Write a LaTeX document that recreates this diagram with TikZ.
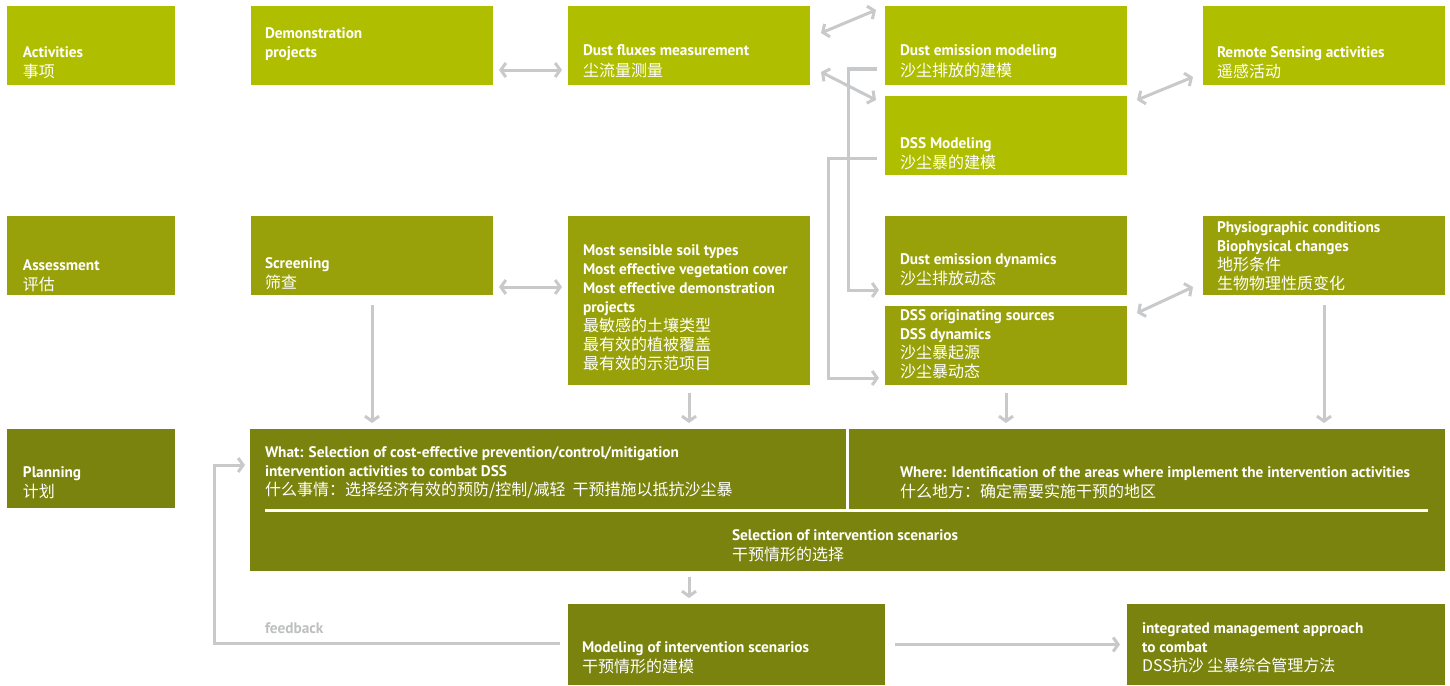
\documentclass[tikz,border=0pt]{standalone}
\usepackage{fontspec}
\setmainfont{PT Sans}
\newfontfamily\cjkfont{Noto Sans CJK SC}
\usetikzlibrary{arrows.meta,calc}
\definecolor{cA}{RGB}{176,190,0}
\definecolor{cB}{RGB}{152,161,10}
\definecolor{cC}{RGB}{122,131,14}
\definecolor{arrc}{RGB}{200,201,202}
\definecolor{fbc}{RGB}{190,191,192}
\newcommand\zhtxt[1]{{\cjkfont\fontsize{16}{19}\selectfont #1}}
\begin{document}
\begin{tikzpicture}[x=1pt,y=-1pt,
  box/.style={anchor=north west,inner sep=0pt,outer sep=0pt,draw=none},
  boxA/.style={box,fill=cA},
  boxB/.style={box,fill=cB},
  boxC/.style={box,fill=cC},
  lab/.style={anchor=north west,inner sep=0pt,outer sep=0pt,align=left,text=white,font=\fontsize{15.3}{19}\selectfont},
  con/.style={draw=arrc,line width=3pt,line join=miter,-{Straight Barb[length=5pt,width=14pt]}},
  dcon/.style={draw=arrc,line width=3pt,line join=miter,{Straight Barb[length=5pt,width=14pt]}-{Straight Barb[length=5pt,width=14pt]}},
  sep/.style={draw=white,line width=3pt}
]
\useasboundingbox (0,0) rectangle (1450,685);
% ---- row: activities
\node[boxA,minimum width=168pt,minimum height=79pt] (act) at (7,6) {};
\node[boxA,minimum width=242pt,minimum height=79pt] (dem) at (251,6) {};
\node[boxA,minimum width=242pt,minimum height=79pt] (flux) at (568,6) {};
\node[boxA,minimum width=242pt,minimum height=79pt] (emod) at (885,6) {};
\node[boxA,minimum width=242pt,minimum height=79pt] (rs) at (1203,6) {};
\node[boxA,minimum width=242pt,minimum height=79pt] (dssm) at (885,96) {};
% ---- row: assessment
\node[boxB,minimum width=168pt,minimum height=79pt] (ass) at (7,216) {};
\node[boxB,minimum width=242pt,minimum height=79pt] (scr) at (251,216) {};
\node[boxB,minimum width=242pt,minimum height=169pt] (most) at (568,216) {};
\node[boxB,minimum width=242pt,minimum height=79pt] (edyn) at (885,216) {};
\node[boxB,minimum width=242pt,minimum height=79pt] (orig) at (885,306) {};
\node[boxB,minimum width=242pt,minimum height=79pt] (phys) at (1203,216) {};
% ---- row: planning
\node[boxC,minimum width=168pt,minimum height=79pt] (plab) at (7,429) {};
\node[boxC,minimum width=1195pt,minimum height=142pt] (plan) at (250,429) {};
\node[boxC,minimum width=317pt,minimum height=81pt] (mod) at (568,604) {};
\node[boxC,minimum width=318pt,minimum height=81pt] (int) at (1127,604) {};
% separators inside planning box
\draw[sep] (plan.north) -- ++(0,80);
\draw[sep] ($(plan.north west)+(15,81)$) -- ($(plan.north east)+(-17,81)$);
% ---- texts (y = first baseline - 13.3)
\node[lab] (t-act) at (23,43.7) {\strut\textbf{Activities}\\\zhtxt{事项}};
\node[lab] (t-dem) at (265,24.7) {\strut\textbf{Demonstration}\\\textbf{projects}};
\node[lab] (t-flux) at (583,42.7) {\strut\textbf{Dust fluxes measurement}\\\zhtxt{尘流量测量}};
\node[lab] (t-emod) at (900,42.7) {\strut\textbf{Dust emission modeling}\\\zhtxt{沙尘排放的建模}};
\node[lab] (t-rs) at (1217,43.7) {\strut\textbf{Remote Sensing activities}\\\zhtxt{遥感活动}};
\node[lab] (t-dssm) at (900,134.7) {\strut\textbf{DSS Modeling}\\\zhtxt{沙尘暴的建模}};
\node[lab] (t-ass) at (23,256.7) {\strut\textbf{Assessment}\\\zhtxt{评估}};
\node[lab] (t-scr) at (265,254.7) {\strut\textbf{Screening}\\\zhtxt{筛查}};
\node[lab] (t-most) at (583,241.7) {\strut\textbf{Most sensible soil types}\\\textbf{Most effective vegetation cover}\\\textbf{Most effective demonstration}\\\textbf{projects}\\\zhtxt{最敏感的土壤类型}\\\zhtxt{最有效的植被覆盖}\\\zhtxt{最有效的示范项目}};
\node[lab] (t-edyn) at (900,250.7) {\strut\textbf{Dust emission dynamics}\\\zhtxt{沙尘排放动态}};
\node[lab] (t-orig) at (900,306.7) {\strut\textbf{DSS originating sources}\\\textbf{DSS dynamics}\\\zhtxt{沙尘暴起源}\\\zhtxt{沙尘暴动态}};
\node[lab] (t-phys) at (1217,218.7) {\strut\textbf{Physiographic conditions}\\\textbf{Biophysical changes}\\\zhtxt{地形条件}\\\zhtxt{生物物理性质变化}};
\node[lab] (t-plab) at (23,463.7) {\strut\textbf{Planning}\\\zhtxt{计划}};
\node[lab] (t-what) at (265,443.7) {\strut\textbf{What: Selection of cost-effective prevention/control/mitigation}\\\textbf{intervention activities to combat DSS}\\\zhtxt{什么事情：选择经济有效的预防/控制/减轻\ \ 干预措施以抵抗沙尘暴}};
\node[lab] (t-where) at (900,463.7) {\strut\textbf{Where: Identification of the areas where implement the intervention activities}\\\zhtxt{什么地方：确定需要实施干预的地区}};
\node[lab] (t-sel) at (732,526.7) {\strut\textbf{Selection of intervention scenarios}\\\zhtxt{干预情形的选择}};
\node[lab] (t-mod) at (582,638.7) {\strut\textbf{Modeling of intervention scenarios}\\\zhtxt{干预情形的建模}};
\node[lab] (t-int) at (1142,619.7) {\strut\textbf{integrated management approach}\\\textbf{to combat}\\\zhtxt{DSS抗沙 尘暴综合管理方法}};
\node[lab,text=fbc] (t-fb) at (265,619.7) {\strut\textbf{feedback}};
% ---- connectors
\draw[dcon] ($(dem.east)+(6,24.5)$) -- ($(flux.west)+(-6,24.5)$);
\draw[dcon] ($(flux.north east)+(11,27)$) -- ($(emod.north west)+(-9,4)$);
\draw[dcon] ($(flux.north east)+(11,66)$) -- ($(dssm.north west)+(-9,4)$);
\draw[con] ($(emod.west)+(-8,23.5)$) -- ++(-29,0) |- ($(edyn.west)+(-6,34.5)$);
\draw[con] ($(dssm.west)+(-8,22.5)$) -- ++(-49,0) |- ($(orig.west)+(-6,32.5)$);
\draw[dcon] ($(dssm.north east)+(10,4)$) -- ($(rs.south west)+(-10,-8)$);
\draw[dcon] ($(orig.north east)+(10,7)$) -- ($(phys.south west)+(-10,-8)$);
\draw[dcon] ($(scr.east)+(6,31.5)$) -- ($(scr.east -| most.west)+(-6,31.5)$);
\draw[con,shorten <=10pt,shorten >=6pt] (scr.south) -- (scr.south |- plan.north);
\draw[con,shorten <=8pt,shorten >=6pt] (most.south) -- (most.south |- plan.north);
\draw[con,shorten <=8pt,shorten >=6pt] (orig.south) -- (orig.south |- plan.north);
\draw[con,shorten <=10pt,shorten >=6pt] (phys.south) -- (phys.south |- plan.north);
\draw[con,shorten <=6pt,shorten >=6pt] (plan.south -| most.south) -- (mod.north -| most.south);
\draw[con,shorten <=10pt,shorten >=7pt] (mod.east) -- (int.west);
\draw[con] ($(mod.west)+(-8,-1)$) -- ++(-346,0) |- ($(plan.west)+(-5,-35)$);
\end{tikzpicture}
\end{document}
